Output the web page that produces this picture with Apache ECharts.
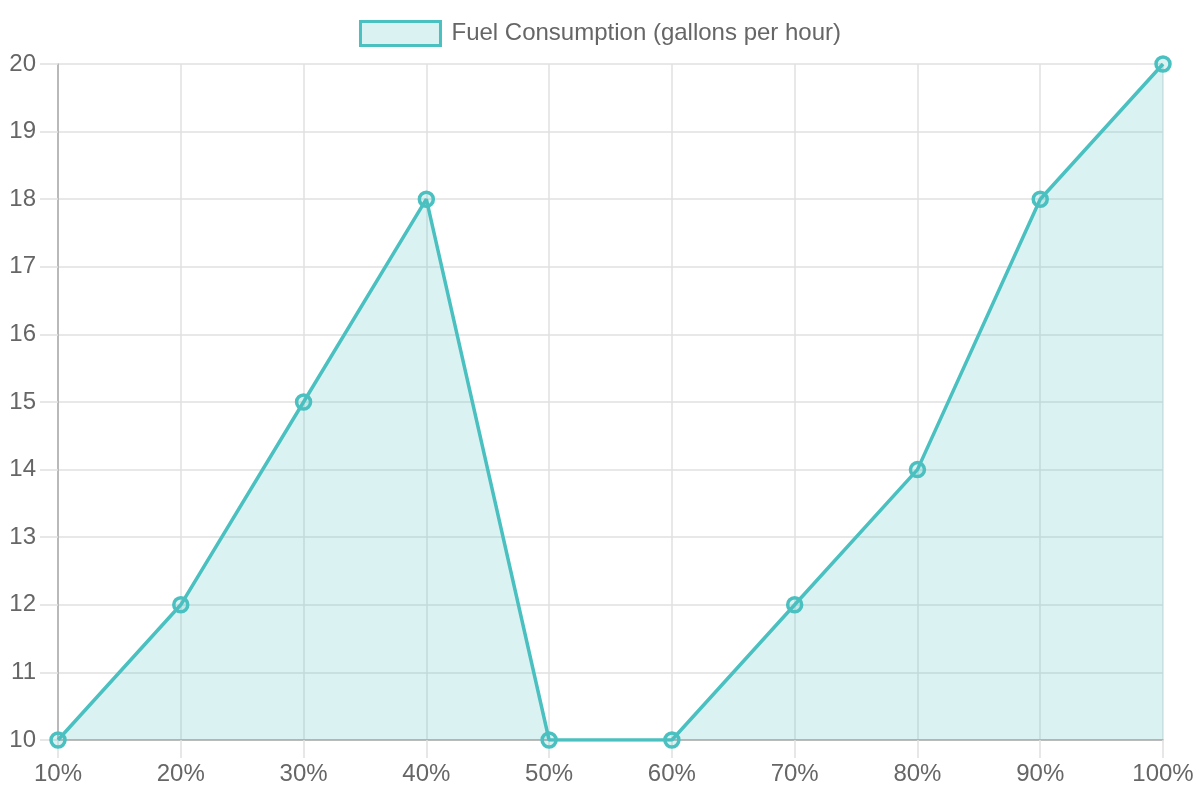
<!DOCTYPE html>
<html>
<head>
<meta charset="utf-8">
<script src="https://cdn.jsdelivr.net/npm/echarts@6/dist/echarts.min.js"></script>
<style>
html,body{margin:0;padding:0;background:#fff;}
#chart{width:1200px;height:800px;}
</style>
</head>
<body>
<div id="chart"></div>
<script>
// data
var loadLabels = ['10%', '20%', '30%', '40%', '50%', '60%', '70%', '80%', '90%', '100%'];
var fuelValues = [10, 12, 15, 18, 10, 10, 12, 14, 18, 20];
var seriesName = 'Fuel Consumption (gallons per hour)';

var lineColor = 'rgb(75,192,192)';
var fillColor = 'rgba(75,192,192,0.2)';
var fontName = 'Liberation Sans, Arial, sans-serif';

var myChart = echarts.init(document.getElementById('chart'));
var option = {
    animation: false,
    textStyle: { fontFamily: fontName },
    legend: {
        top: 15,
        left: 'center',
        itemWidth: 80,
        itemHeight: 24,
        icon: 'rect',
        textStyle: { color: '#666', fontSize: 24, fontFamily: fontName, padding: [0, 0, 0, 6] },
        itemStyle: { color: fillColor, borderColor: lineColor, borderWidth: 3 },
        data: [seriesName]
    },
    grid: { left: 58, right: 37, top: 64, bottom: 60, containLabel: false },
    xAxis: {
        type: 'category',
        boundaryGap: false,
        data: loadLabels,
        axisLine: { show: true, lineStyle: { color: '#aaa', width: 1.5 } },
        axisTick: { show: true, alignWithLabel: true, length: 18, lineStyle: { color: '#e0e0e0', width: 1.5 } },
        axisLabel: { color: '#666', fontSize: 24, margin: 22 },
        splitLine: { show: true, lineStyle: { color: '#e0e0e0', width: 1.5 } }
    },
    yAxis: {
        type: 'value',
        min: 10,
        max: 20,
        interval: 1,
        axisLine: { show: true, lineStyle: { color: '#aaa', width: 1.5 } },
        axisTick: { show: true, length: 18, lineStyle: { color: '#e0e0e0', width: 1.5 } },
        axisLabel: { color: '#666', fontSize: 24, margin: 22 },
        splitLine: { show: true, lineStyle: { color: '#e0e0e0', width: 1.5 } }
    },
    series: [{
        name: seriesName,
        type: 'line',
        data: fuelValues,
        symbol: 'circle',
        symbolSize: 14,
        itemStyle: { color: fillColor, borderColor: lineColor, borderWidth: 3.5 },
        lineStyle: { color: lineColor, width: 3.5 },
        areaStyle: { color: fillColor, opacity: 1, origin: 'start' }
    }]
};
myChart.setOption(option);
</script>
</body>
</html>
